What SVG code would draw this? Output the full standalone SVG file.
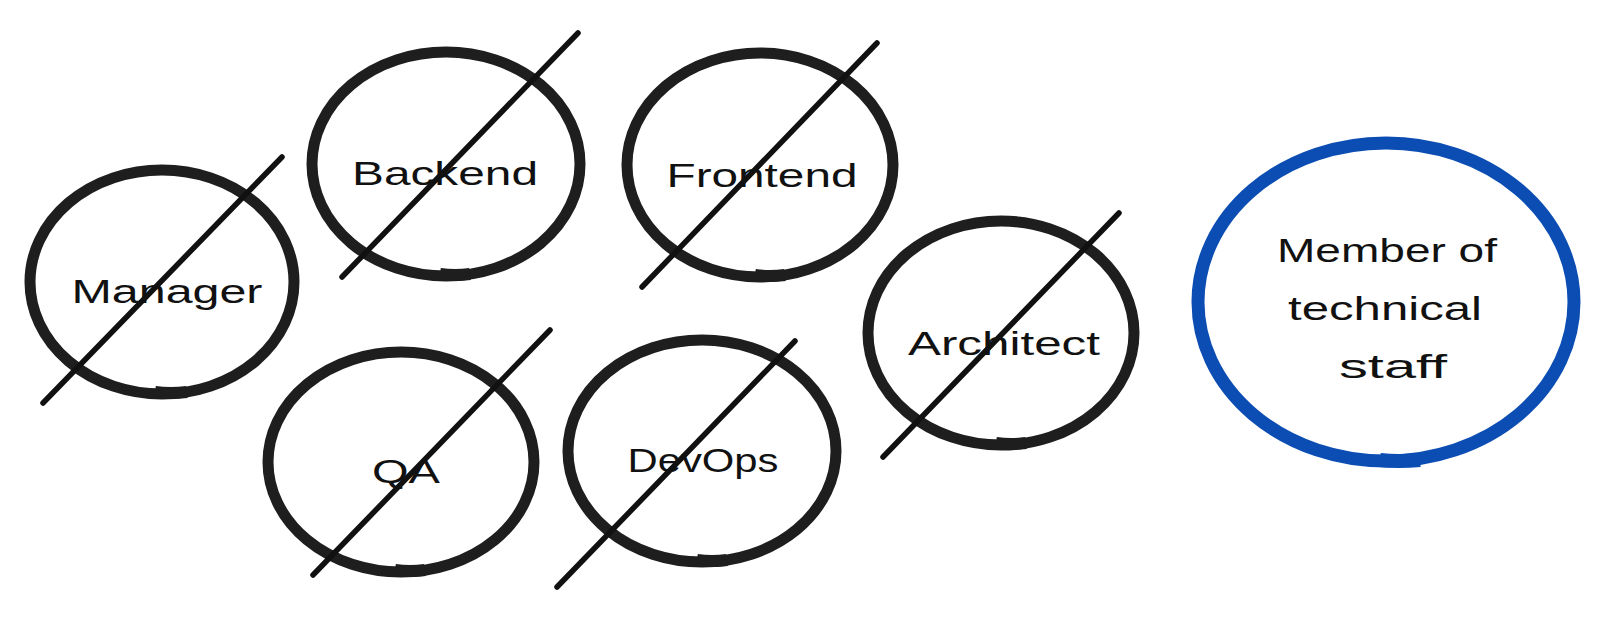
<svg xmlns="http://www.w3.org/2000/svg" width="1600" height="629" viewBox="0 0 1600 629">
<style>
.ring{fill:none;stroke:#1e1e1e;stroke-width:11}
.seam{fill:none;stroke:#1e1e1e;stroke-width:12;stroke-linecap:butt}
.slash{stroke:#111;stroke-width:5.5;stroke-linecap:round}
.lbl{font-family:"Liberation Sans","DejaVu Sans",sans-serif;font-size:34px;fill:#111;text-anchor:middle}
.blue{fill:none;stroke:#0b4db3;stroke-width:13}
.bseam{fill:none;stroke:#0b4db3;stroke-width:14}
</style>
<rect width="1600" height="629" fill="#fff"/>
<g id="manager">
<ellipse class="ring" cx="162" cy="282" rx="132" ry="112"/>
<path class="seam" d="M155 392 Q170 394 187 392"/>
<text class="lbl" x="167" y="303" textLength="191" lengthAdjust="spacingAndGlyphs">Manager</text>
<line class="slash" x1="43" y1="403" x2="282" y2="157"/>
</g>
<g id="backend">
<ellipse class="ring" cx="446" cy="164" rx="134" ry="112"/>
<path class="seam" d="M440 274 Q455 276 470 274"/>
<text class="lbl" x="445" y="185" textLength="186" lengthAdjust="spacingAndGlyphs">Backend</text>
<line class="slash" x1="342" y1="277" x2="578" y2="33"/>
</g>
<g id="frontend">
<ellipse class="ring" cx="760" cy="165" rx="133" ry="112"/>
<path class="seam" d="M755 275 Q770 277 785 275"/>
<text class="lbl" x="762" y="187" textLength="191" lengthAdjust="spacingAndGlyphs">Frontend</text>
<line class="slash" x1="642" y1="287" x2="877" y2="43"/>
</g>
<g id="qa">
<ellipse class="ring" cx="401" cy="462" rx="133" ry="110"/>
<path class="seam" d="M395 570 Q410 572 425 570"/>
<text class="lbl" x="406" y="483" textLength="68" lengthAdjust="spacingAndGlyphs">QA</text>
<line class="slash" x1="313" y1="575" x2="550" y2="330"/>
</g>
<g id="devops">
<ellipse class="ring" cx="702" cy="451" rx="134" ry="111"/>
<path class="seam" d="M697 560 Q712 562 727 560"/>
<text class="lbl" x="703" y="472" textLength="151" lengthAdjust="spacingAndGlyphs">DevOps</text>
<line class="slash" x1="557" y1="587" x2="795" y2="341"/>
</g>
<g id="architect">
<ellipse class="ring" cx="1001" cy="333" rx="133" ry="112"/>
<path class="seam" d="M996 443 Q1011 445 1026 443"/>
<text class="lbl" x="1004" y="355" textLength="192" lengthAdjust="spacingAndGlyphs">Architect</text>
<line class="slash" x1="883" y1="457" x2="1119" y2="213"/>
</g>
<g id="member">
<ellipse class="blue" cx="1386" cy="302" rx="188" ry="159"/>
<path class="bseam" d="M1380 460 Q1398 462 1420 460"/>
<text class="lbl" x="1387" y="262" textLength="220" lengthAdjust="spacingAndGlyphs">Member of</text>
<text class="lbl" x="1385" y="320" textLength="194" lengthAdjust="spacingAndGlyphs">technical</text>
<text class="lbl" x="1393" y="378" textLength="108" lengthAdjust="spacingAndGlyphs">staff</text>
</g>
<g id="connectors"/>
</svg>
